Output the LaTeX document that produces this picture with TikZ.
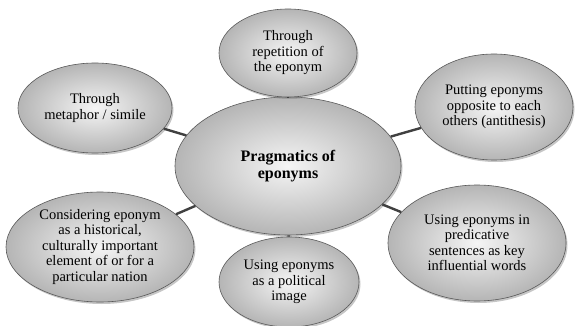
\documentclass[tikz,border=0pt]{standalone}
\usepackage{fontspec}
\setmainfont{Liberation Serif}
\usetikzlibrary{shapes.geometric,shadows}

\tikzset{
  bubble/.style={shape=ellipse,draw=gray!70!black,line width=0.6pt,inner sep=0pt,
    shading=radial,inner color=gray!8,outer color=gray!58,align=center,
    font=\fontsize{14.5}{15.5}\selectfont,
    drop shadow={shadow xshift=1.5pt,shadow yshift=-2pt,opacity=0.45}},
  link/.style={draw=black!75,line width=2.4pt}
}

\begin{document}
\begin{tikzpicture}[x=1pt,y=-1pt]
	\useasboundingbox (0,0) rectangle (575,326);

        \node[bubble,minimum width=226pt,minimum height=138pt,font=\fontsize{16}{17}\selectfont\bfseries] (main) at (288,166) {Pragmatics of\\eponyms};
        \node[bubble,minimum width=138pt,minimum height=88pt] (rep) at (288,53)     {Through\\repetition of\\the eponym};
        \node[bubble,minimum width=158pt,minimum height=106pt] (anti) at (494,107)     {Putting eponyms\\opposite to each\\others (antithesis)};
        \node[bubble,minimum width=178pt,minimum height=116pt] (pred) at (477,243)     {Using eponyms in\\predicative\\sentences as key\\influential words};
        \node[bubble,minimum width=140pt,minimum height=90pt] (pol) at (289,282)     {Using eponyms\\as a political\\image};
        \node[bubble,minimum width=188pt,minimum height=110pt] (hist) at (100,247)     {Considering eponym\\as a historical,\\culturally important\\element of or for a\\particular nation};
        \node[bubble,minimum width=154pt,minimum height=90pt] (meta) at (95,108)     {Through\\metaphor / simile};

	\path[link] (main) -- (rep);
	\path[link] (main) -- (anti);
	\path[link] (main) -- (pred);
	\path[link] (main) -- (pol);
	\path[link] (main) -- (hist);
	\path[link] (main) -- (meta);
\end{tikzpicture}
\end{document}
